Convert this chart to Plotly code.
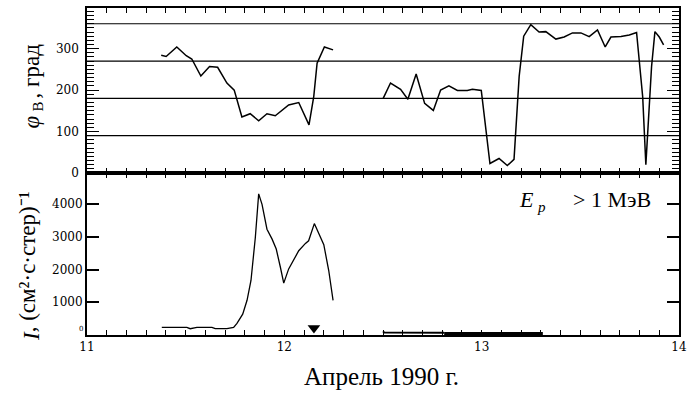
import plotly.graph_objects as go

# ---- data ----
t_phi_a = [11.376, 11.401, 11.455, 11.503, 11.531, 11.577, 11.621, 11.662, 11.709, 11.746,
           11.785, 11.827, 11.870, 11.912, 11.954, 11.988, 12.022, 12.073, 12.125, 12.149,
           12.166, 12.203, 12.247]
phi_a = [284, 281, 304, 283, 275, 234, 257, 255, 217, 200,
         135, 143, 126, 143, 138, 152, 164, 170, 116, 184,
         265, 304, 297]

t_phi_b = [12.501, 12.538, 12.589, 12.626, 12.668, 12.711, 12.755, 12.792, 12.834, 12.877,
           12.927, 12.953, 12.998, 13.042, 13.088, 13.130, 13.164, 13.190, 13.213, 13.249,
           13.291, 13.325, 13.376, 13.418, 13.460, 13.503, 13.545, 13.587, 13.626, 13.655,
           13.706, 13.748, 13.785, 13.799, 13.816, 13.832, 13.849, 13.861, 13.878, 13.900,
           13.922]
phi_b = [180, 217, 202, 178, 239, 168, 151, 200, 210, 199,
         199, 202, 199, 23, 35, 18, 33, 233, 330, 358,
         340, 341, 323, 328, 338, 338, 329, 345, 304, 328,
         329, 333, 339, 273, 184, 20, 152, 257, 341, 328,
         309]

t_I_a = [11.379, 11.506, 11.523, 11.557, 11.633, 11.650, 11.709, 11.743, 11.760, 11.789,
         11.811, 11.831, 11.853, 11.870, 11.887, 11.912, 11.938, 11.959, 11.980, 11.997,
         12.022, 12.047, 12.073, 12.107, 12.123, 12.152, 12.200, 12.225, 12.247]
I_a = [233, 233, 192, 233, 233, 192, 192, 233, 354, 636,
       1060, 1667, 2980, 4313, 3990, 3232, 2929, 2626, 2070, 1586,
       2020, 2293, 2575, 2798, 2879, 3404, 2758, 1970, 1060]

t_I_b = [12.500, 12.506, 12.810]
I_b = [110, 75, 65]
t_I_c = [12.810, 13.310]
I_c = [45, 45]

marker_time = [12.15]
marker_level = [215]

ref_levels = [90, 180, 270, 360]
x_range = [11, 14]

x_tickvals = [11 + i / 10 for i in range(31)]
x_ticktext = [str(int(round(v))) if abs(v - round(v)) < 1e-9 else '' for v in x_tickvals]
I_ticks = [1000, 2000, 3000, 4000]
I_zero = 0

# ---- figure ----
fig = go.Figure()
line = dict(color='black', width=1.5)
for lv in ref_levels:
    fig.add_trace(go.Scatter(x=x_range, y=[lv, lv], mode='lines', line=dict(color='black', width=1.2),
                             xaxis='x2', yaxis='y2', hoverinfo='skip'))
fig.add_trace(go.Scatter(x=t_phi_a, y=phi_a, mode='lines', line=line, xaxis='x2', yaxis='y2'))
fig.add_trace(go.Scatter(x=t_phi_b, y=phi_b, mode='lines', line=line, xaxis='x2', yaxis='y2'))
fig.add_trace(go.Scatter(x=t_I_a, y=I_a, mode='lines', line=dict(color='black', width=1.3)))
fig.add_trace(go.Scatter(x=t_I_b, y=I_b, mode='lines', line=dict(color='black', width=2)))
fig.add_trace(go.Scatter(x=t_I_c, y=I_c, mode='lines', line=dict(color='black', width=3.2)))
fig.add_trace(go.Scatter(x=marker_time, y=marker_level, mode='markers',
                         marker=dict(symbol='triangle-down', size=11, color='black')))

tickfont = dict(family='DejaVu Serif', size=12, color='black')
dom_split = 0.4954
nb = '\u00a0'

fig.update_layout(
    template='none',
    width=697, height=396,
    margin=dict(l=87, r=18, t=8, b=61),
    showlegend=False,
    xaxis=dict(range=x_range, anchor='y', showline=True, linewidth=2, linecolor='black',
               mirror='ticks', ticks='inside', ticklen=5, tickwidth=1, tickcolor='black',
               tickmode='array', tickvals=x_tickvals, ticktext=x_ticktext, tickfont=tickfont,
               showgrid=False, zeroline=False),
    xaxis2=dict(range=x_range, anchor='y2', showline=True, linewidth=2, linecolor='black',
                mirror='ticks', ticks='inside', ticklen=5, tickwidth=1, tickcolor='black',
                tickmode='array', tickvals=x_tickvals, showticklabels=False,
                showgrid=False, zeroline=False),
    yaxis=dict(domain=[0, dom_split], range=[0, 4950], showline=True, linewidth=2, linecolor='black',
               mirror='ticks', ticks='inside', ticklen=12, tickwidth=1.5, tickcolor='black',
               tickmode='array', tickvals=I_ticks, tickfont=tickfont, showgrid=False, zeroline=False,
               ticksuffix=nb),
    yaxis2=dict(domain=[dom_split, 1], range=[0, 398], showline=True, linewidth=2, linecolor='black',
                mirror='ticks', ticks='inside', ticklen=12, tickwidth=1.2, tickcolor='black',
                dtick=100, tickfont=tickfont,
                showgrid=False, zeroline=False, ticksuffix=nb,
                minor=dict(dtick=10, ticks='inside', ticklen=7, tickcolor='black', tickwidth=1)),
)

serif = 'Liberation Serif'


def note(text, x, y, size, xa='center', ya='middle', angle=0, italic=False, family=serif):
    f = dict(family=family, size=size, color='black')
    if italic:
        f['style'] = 'italic'
    fig.add_annotation(text=text, xref='paper', yref='paper', x=x, y=y, xanchor=xa, yanchor=ya,
                       textangle=angle, showarrow=False, font=f)


fig.add_annotation(text='0', xref='paper', yref='y', x=0, y=I_zero, xanchor='right', yanchor='bottom',
                   xshift=-2, showarrow=False, font=dict(family='DejaVu Serif', size=7, color='black'))

note('φ', -0.0946, 0.679, 23, ya='top', angle=-90, italic=True)
note('В', -0.0828, 0.699, 15, angle=-90)
note(', град', -0.0946, 0.719, 23, ya='bottom', angle=-90)

note('I', -0.0946, -0.0245, 23, ya='bottom', angle=-90, italic=True)
note(', (см²·с·стер)⁻¹', -0.1, 0.003, 23, ya='bottom', angle=-90)

note('Апрель 1990 г.', 0.498, -0.128, 25)

note('E', 0.7584, 0.415, 22, xa='right', italic=True)
note('p', 0.7568, 0.392, 15, xa='left', italic=True)
note('> 1 МэВ', 0.956, 0.415, 22, xa='right')

fig.write_html('out.html')
